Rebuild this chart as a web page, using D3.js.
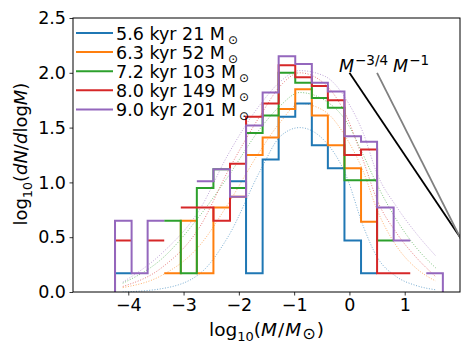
<!DOCTYPE html>
<html>
<head>
<meta charset="utf-8">
<script src="https://cdn.jsdelivr.net/npm/d3@7"></script>
<style>
body { margin: 0; background: #fff; }
text { font-family: "DejaVu Sans", sans-serif; fill: #000; }
</style>
</head>
<body>
<div id="chart"></div>
<script>
// bin edges in log10(M/Msun)
var binEdges = [-4.24, -3.94, -3.65, -3.35, -3.05, -2.76, -2.46, -2.16, -1.87, -1.57, -1.28,
                -0.98, -0.68, -0.39, -0.09, 0.21, 0.50, 0.80, 1.10, 1.39, 1.69];

var labels = ["5.6 kyr 21 M", "6.3 kyr 52 M", "7.2 kyr 103 M", "8.0 kyr 149 M", "9.0 kyr 201 M"];
var colors = ["#1f77b4", "#ff7f0e", "#2ca02c", "#d62728", "#9467bd"];

// log10(dN/dlogM) per bin, null = empty bin
var hist56 = [0.17, null, null, null, null, null, null, 1.01, 0.17, 1.21, 1.60, 1.72, 1.34, 1.13, 0.47, 0.17, null, null, null, null];
var hist63 = [null, null, null, 0.17, 0.65, 0.17, 0.77, 0.87, 1.25, 1.41, 1.67, 1.85, 1.61, 1.34, 1.13, 0.64, null, null, null, null];
var hist72 = [null, null, null, 0.65, 0.17, 0.95, 1.12, 0.95, 1.45, 1.61, 2.00, 1.91, 1.77, 1.68, 1.02, 1.02, 0.47, null, null, null];
var hist80 = [0.47, null, 0.47, null, 0.77, 0.77, 0.65, 1.17, 1.60, 1.72, 2.07, 1.96, 1.88, 1.75, 1.25, 1.30, 0.17, 0.17, null, null];
var hist90 = [0.65, 0.17, 0.65, null, null, 1.01, 1.12, 0.87, 1.52, 1.82, 2.15, 2.08, 1.91, 1.83, 1.42, 1.37, 0.77, 0.47, null, 0.17];

// dotted fit curves
var fitX  = [-4.1, -3.4, -2.7, -2.2, -1.6, -1.25, -0.9, -0.45, -0.05, 0.25, 0.5, 0.85, 1.2, 1.56];
var fit56 = [0.00, 0.03, 0.17, 0.50, 1.12, 1.42, 1.50, 1.38, 1.05, 0.60, 0.32, 0.14, 0.06, 0.02];
var fit63 = [0.04, 0.15, 0.43, 0.80, 1.30, 1.55, 1.72, 1.65, 1.40, 1.10, 0.75, 0.42, 0.22, 0.10];
var fit72 = [0.08, 0.30, 0.70, 1.05, 1.50, 1.70, 1.82, 1.75, 1.55, 1.25, 0.98, 0.66, 0.41, 0.22];
var fit80 = [0.05, 0.22, 0.60, 1.10, 1.62, 1.88, 2.00, 1.90, 1.60, 1.20, 0.84, 0.54, 0.32, 0.14];
var fit90 = [0.09, 0.35, 0.76, 1.25, 1.72, 1.92, 2.02, 1.97, 1.75, 1.45, 1.08, 0.78, 0.54, 0.33];

// reference power laws
var slope34X = [0.0, 2.5];
var slope34Y = [2.0, 0.125];
var slope1X = [0.5, 2.5];
var slope1Y = [2.0, 0.0];

var xTicks = [-4, -3, -2, -1, 0, 1];
var yTicks = [0, 0.5, 1, 1.5, 2, 2.5];

var hists = [hist56, hist63, hist72, hist80, hist90];
var fits = [fit56, fit63, fit72, fit80, fit90];

var W = 474, H = 356;
var margin = { top: 18, right: 14, bottom: 64, left: 73 };
var width = W - margin.left - margin.right;
var height = H - margin.top - margin.bottom;

var svg = d3.select("#chart").append("svg")
    .attr("width", W)
    .attr("height", H);

var g = svg.append("g")
    .attr("transform", "translate(" + margin.left + "," + margin.top + ")");

var x = d3.scaleLinear().domain([-5, 2]).range([0, width]);
var y = d3.scaleLinear().domain([0, 2.5]).range([height, 0]);

g.append("clipPath").attr("id", "plotclip")
    .append("rect").attr("width", width).attr("height", height);

var plot = g.append("g").attr("clip-path", "url(#plotclip)");

// dotted fits
var fitLine = d3.line()
    .x(d => x(d[0]))
    .y(d => y(d[1]))
    .curve(d3.curveMonotoneX);

fits.forEach(function(f, i) {
    plot.append("path")
        .datum(fitX.map((v, j) => [v, f[j]]))
        .attr("d", fitLine)
        .attr("fill", "none")
        .attr("stroke", colors[i])
        .attr("stroke-width", 1)
        .attr("stroke-dasharray", "1,1.65")
        .attr("opacity", 0.6);
});

// step histograms (gaps where the bin is empty)
var stepLine = d3.line()
    .defined(d => d[1] != null)
    .x(d => x(d[0]))
    .y(d => y(d[1]));

hists.forEach(function(h, i) {
    var pts = [];
    if (h[0] != null) pts.push([binEdges[0], 0]);
    h.forEach(function(v, k) {
        pts.push([binEdges[k], v]);
        pts.push([binEdges[k + 1], v]);
    });
    if (h[h.length - 1] != null) pts.push([binEdges[binEdges.length - 1], 0]);
    plot.append("path")
        .datum(pts)
        .attr("d", stepLine)
        .attr("fill", "none")
        .attr("stroke", colors[i])
        .attr("stroke-width", 2);
});

// power law guides
plot.append("line")
    .attr("x1", x(slope34X[0])).attr("y1", y(slope34Y[0]))
    .attr("x2", x(slope34X[1])).attr("y2", y(slope34Y[1]))
    .attr("stroke", "#000").attr("stroke-width", 1.8);
plot.append("line")
    .attr("x1", x(slope1X[0])).attr("y1", y(slope1Y[0]))
    .attr("x2", x(slope1X[1])).attr("y2", y(slope1Y[1]))
    .attr("stroke", "#808080").attr("stroke-width", 1.8);

function powLabel(xv, exp) {
    var t = g.append("text")
        .attr("x", x(xv))
        .attr("y", y(2.0) - 1)
        .style("font-size", "17.5px");
    t.append("tspan").style("font-style", "italic").text("M");
    t.append("tspan").attr("dx", 1).attr("dy", -7).style("font-size", "13.5px").text(exp);
}
powLabel(-0.19, "\u22123/4");
powLabel(0.79, "\u22121");

// axes
var xAxis = g.append("g")
    .attr("transform", "translate(0," + height + ")")
    .call(d3.axisBottom(x).tickValues(xTicks).tickSize(3.5).tickPadding(3.5).tickSizeOuter(0)
        .tickFormat(d3.format("d")));
var yAxis = g.append("g")
    .call(d3.axisLeft(y).tickValues(yTicks).tickSize(3.5).tickPadding(3.5).tickSizeOuter(0)
        .tickFormat(d3.format(".1f")));

[xAxis, yAxis].forEach(function(a) {
    a.select(".domain").remove();
    a.selectAll("line").attr("stroke", "#000").attr("stroke-width", 0.8);
    a.selectAll("text").style("font-size", "17.5px").style("font-family", "DejaVu Sans");
});

g.append("rect")
    .attr("width", width).attr("height", height)
    .attr("fill", "none").attr("stroke", "#000").attr("stroke-width", 1);

// axis labels
var xl = g.append("text")
    .attr("x", width / 2)
    .attr("y", height + 44)
    .attr("text-anchor", "middle")
    .style("font-size", "18.5px");
xl.append("tspan").text("log");
xl.append("tspan").attr("dy", 5).style("font-size", "13px").text("10");
xl.append("tspan").attr("dy", -5).text("(");
xl.append("tspan").style("font-style", "italic").text("M");
xl.append("tspan").attr("dx", 1).text("/");
xl.append("tspan").attr("dx", 1).style("font-style", "italic").text("M");
xl.append("tspan").attr("dx", 1).attr("dy", 3).style("font-size", "16px").text("\u2299");
xl.append("tspan").attr("dx", 1).attr("dy", -3).text(")");

var yl = g.append("text")
    .attr("transform", "translate(" + (-46) + "," + (height / 2 - 1) + ") rotate(-90)")
    .attr("text-anchor", "middle")
    .style("font-size", "18px");
yl.append("tspan").text("log");
yl.append("tspan").attr("dy", 5).style("font-size", "12.5px").text("10");
yl.append("tspan").attr("dy", -5).text("(");
yl.append("tspan").style("font-style", "italic").text("dN");
yl.append("tspan").text("/");
yl.append("tspan").style("font-style", "italic").text("d");
yl.append("tspan").text("log");
yl.append("tspan").style("font-style", "italic").text("M");
yl.append("tspan").text(")");

// legend
var legend = g.append("g").attr("transform", "translate(3,15)");
labels.forEach(function(lab, i) {
    var row = legend.append("g").attr("transform", "translate(0," + (i * 19.1) + ")");
    row.append("line")
        .attr("x1", 0).attr("x2", 37)
        .attr("stroke", colors[i]).attr("stroke-width", 2);
    var t = row.append("text")
        .attr("x", 40).attr("y", 6.5)
        .style("font-size", "17.5px");
    t.append("tspan").text(lab);
    t.append("tspan").attr("dx", 3).attr("dy", 4).style("font-size", "12px").text("\u2299");
});
</script>
</body>
</html>
